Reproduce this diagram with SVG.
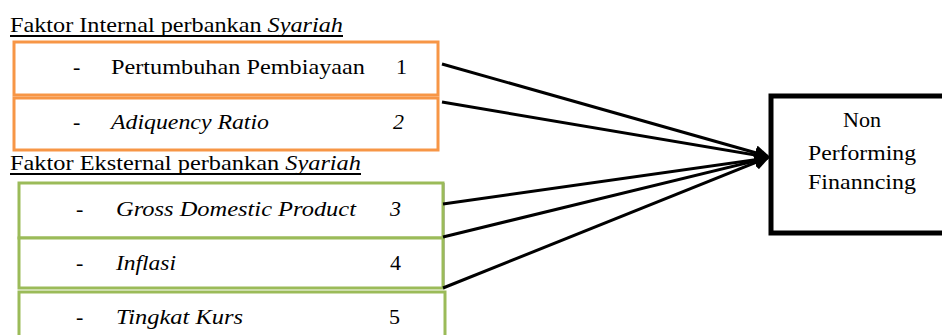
<svg xmlns="http://www.w3.org/2000/svg" width="942" height="335" viewBox="0 0 942 335">
<defs>
<style>
text{font-family:"Liberation Serif","Times New Roman",serif;font-size:22px;fill:#000}
.i{font-style:italic}
.or{fill:#fff;stroke:#F79646;stroke-width:3}
.gr{fill:#fff;stroke:#9BBB59;stroke-width:3}
.c{stroke:#000;stroke-width:3;fill:none;marker-end:url(#ah)}
</style>
<marker id="ah" markerWidth="5" markerHeight="5" refX="4" refY="2.5" orient="auto" markerUnits="strokeWidth"><path d="M0,0 L5,2.5 L0,5 z" fill="#000"/></marker>
</defs>
<rect width="942" height="335" fill="#fff"/>
<g id="heading-internal">
<text x="10" y="32" textLength="333" lengthAdjust="spacingAndGlyphs">Faktor Internal perbankan <tspan class="i">Syariah</tspan></text>
<line x1="10" y1="36" x2="343" y2="36" stroke="#000" stroke-width="2"/>
</g>
<g id="node1">
<rect class="or" x="14" y="42" width="424" height="53"/>
<text x="73" y="74">-</text>
<text x="111" y="74" textLength="254" lengthAdjust="spacingAndGlyphs">Pertumbuhan Pembiayaan</text>
<text x="396" y="74">1</text>
</g>
<g id="node2">
<rect class="or" x="14" y="98" width="424" height="52"/>
<text x="73" y="129">-</text>
<text class="i" x="111" y="129" textLength="158" lengthAdjust="spacingAndGlyphs">Adiquency Ratio</text>
<text class="i" x="393" y="129">2</text>
</g>
<g id="heading-external">
<text x="10" y="170" textLength="351" lengthAdjust="spacingAndGlyphs">Faktor Eksternal perbankan <tspan class="i">Syariah</tspan></text>
<line x1="10" y1="174" x2="361" y2="174" stroke="#000" stroke-width="2"/>
</g>
<line x1="444" y1="183" x2="444" y2="289" stroke="#bbb" stroke-width="2"/>
<g id="node3">
<rect class="gr" x="19" y="183" width="424" height="55"/>
<text x="76" y="216">-</text>
<text class="i" x="116" y="216" textLength="240" lengthAdjust="spacingAndGlyphs">Gross Domestic Product</text>
<text class="i" x="390" y="216">3</text>
</g>
<g id="node4">
<rect class="gr" x="19" y="238" width="424" height="50"/>
<text x="76" y="270">-</text>
<text class="i" x="116" y="270" textLength="60" lengthAdjust="spacingAndGlyphs">Inflasi</text>
<text x="390" y="270">4</text>
</g>
<g id="node5">
<rect class="gr" x="19" y="292" width="426" height="50"/>
<text x="76" y="324">-</text>
<text class="i" x="116" y="324" textLength="127" lengthAdjust="spacingAndGlyphs">Tingkat Kurs</text>
<text x="389" y="324">5</text>
</g>
<g id="connectors">
<line class="c" x1="442" y1="64" x2="767" y2="156"/>
<line class="c" x1="442" y1="102" x2="767" y2="157"/>
<line class="c" x1="443" y1="204" x2="767" y2="158"/>
<line class="c" x1="443" y1="237" x2="767" y2="158"/>
<line class="c" x1="443" y1="288" x2="767" y2="158"/>
</g>
<g id="npf">
<rect x="771" y="96" width="176" height="137" fill="#fff" stroke="#000" stroke-width="5"/>
<text x="862" y="127" text-anchor="middle" textLength="38" lengthAdjust="spacingAndGlyphs">Non</text>
<text x="862" y="160" text-anchor="middle" textLength="108" lengthAdjust="spacingAndGlyphs">Performing</text>
<text x="862" y="189" text-anchor="middle" textLength="108" lengthAdjust="spacingAndGlyphs">Finanncing</text>
</g>
</svg>
